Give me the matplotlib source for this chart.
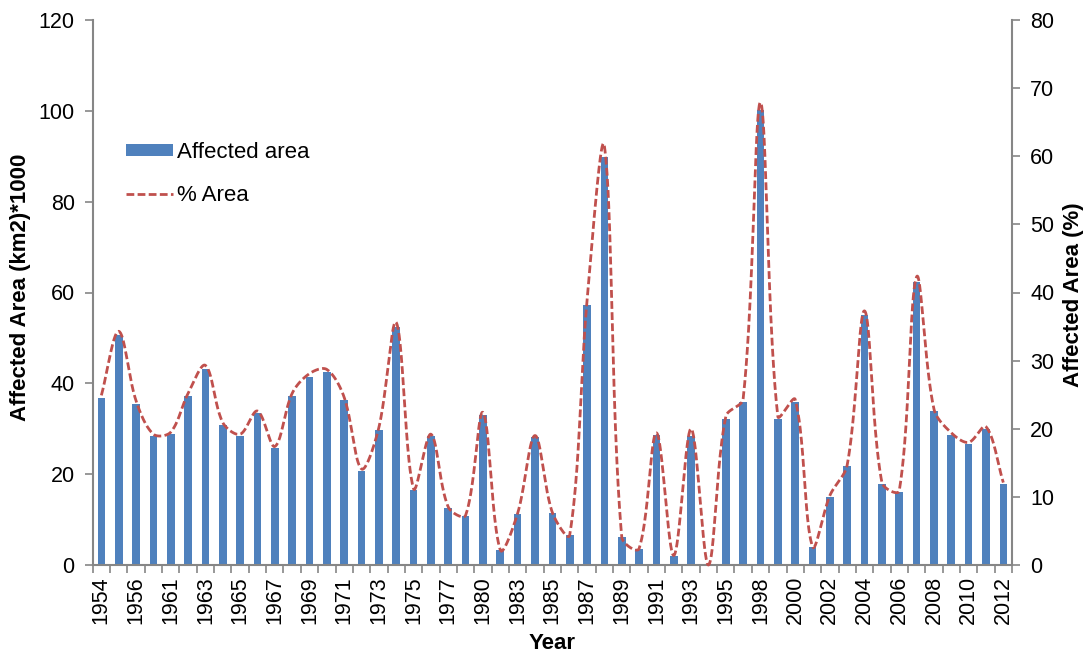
import numpy as np
import matplotlib
matplotlib.use('Agg')
import matplotlib.pyplot as plt
from matplotlib.patches import Patch
from matplotlib.lines import Line2D
from matplotlib.ticker import FixedLocator

years = [1954, 1955, 1956, 1960, 1961, 1962, 1963, 1964, 1965, 1966,
         1967, 1968, 1969, 1970, 1971, 1972, 1973, 1974, 1975, 1976,
         1977, 1979, 1980, 1982, 1983, 1984, 1985, 1986, 1987, 1988,
         1989, 1990, 1991, 1992, 1993, 1994, 1995, 1997, 1998, 1999,
         2000, 2001, 2002, 2003, 2004, 2005, 2006, 2007, 2008, 2009,
         2010, 2011, 2012]

affected_area = [36.7, 50.6, 35.5, 28.4, 28.8, 37.2, 43.2, 30.9, 28.4, 33.4,
                 25.7, 37.2, 41.4, 42.4, 36.3, 20.8, 29.8, 52.5, 16.5, 28.3,
                 12.5, 10.8, 33.0, 3.2, 11.2, 28.1, 11.4, 6.5, 57.3, 89.9,
                 6.1, 3.5, 28.6, 2.0, 28.5, 0.0, 32.1, 36.0, 100.2, 32.1,
                 35.8, 4.0, 15.0, 21.7, 55.0, 17.8, 16.1, 62.4, 33.8, 28.6,
                 26.6, 29.9, 17.8]

pct_area = [24.9, 34.3, 24.1, 19.2, 19.5, 25.2, 29.3, 20.9, 19.2, 22.6,
            17.4, 25.2, 28.1, 28.7, 24.6, 14.1, 20.2, 35.6, 11.2, 19.2,
            8.5, 7.3, 22.4, 2.2, 7.6, 19.0, 7.7, 4.4, 38.8, 61.5,
            4.1, 2.4, 19.4, 1.4, 20.0, 0.0, 21.8, 24.4, 67.9, 21.8,
            24.3, 2.7, 10.2, 14.7, 37.3, 12.1, 10.9, 42.3, 22.9, 19.4,
            18.0, 20.3, 12.1]

BAR_COLOR = '#4F81BD'
LINE_COLOR = '#C0504D'
AXIS_COLOR = '#868686'

plt.rcParams['font.family'] = ['Liberation Sans', 'DejaVu Sans']

W, H = 1086, 653
fig = plt.figure(figsize=(W / 100, H / 100), dpi=100)
x0, x1, yb, yt = 92.7, 1012, 565, 20
ax = fig.add_axes([x0 / W, 1 - yb / H, (x1 - x0) / W, (yb - yt) / H])

x = np.arange(len(years))
ax.bar(x, affected_area, width=0.44, color=BAR_COLOR, zorder=2)
ax.set_xlim(-0.5, len(years) - 0.5)
ax.set_ylim(0, 120)
ax.set_yticks(range(0, 121, 20))

TICK_FS = 15.5
ax.set_xticks(x[::2])
ax.set_xticklabels([str(y) for y in years[::2]], rotation=90)
ax.xaxis.set_minor_locator(FixedLocator(np.arange(-0.5, len(years), 1.0)))
ax.tick_params(axis='x', which='major', length=0, labelsize=TICK_FS, pad=8)
ax.tick_params(axis='x', which='minor', length=6, width=1.2, color=AXIS_COLOR, direction='out')
ax.tick_params(axis='y', length=6, width=1.2, color=AXIS_COLOR, direction='out',
               labelsize=TICK_FS, pad=7)

for s in ['top', 'right']:
    ax.spines[s].set_visible(False)
for s in ['left', 'bottom']:
    ax.spines[s].set_color(AXIS_COLOR)
    ax.spines[s].set_linewidth(1.5)

ax2 = ax.twinx()
ax2.set_ylim(0, 80)
ax2.set_yticks(range(0, 81, 10))
ax2.tick_params(axis='y', length=6, width=1.2, color=AXIS_COLOR, direction='out',
                labelsize=TICK_FS, pad=7)
for s in ['top', 'left', 'bottom']:
    ax2.spines[s].set_visible(False)
ax2.spines['right'].set_color(AXIS_COLOR)
ax2.spines['right'].set_linewidth(1.5)

fig.text(21 / W, 1 - 287 / H, 'Affected Area (km2)*1000', rotation=90,
         ha='center', va='center', fontsize=16, fontweight='bold')
fig.text(1073 / W, 1 - 295 / H, 'Affected Area (%)', rotation=90,
         ha='center', va='center', fontsize=16, fontweight='bold')
fig.text(552 / W, 1 - 633 / H, 'Year', ha='center', va='top', fontsize=16, fontweight='bold')

# Excel-like smoothing computed in pixel space
sx = (x1 - x0) / len(years)
sy = (yb - yt) / 80.0


def smooth(xs, ys, n=40):
    P = np.column_stack([np.asarray(xs) * sx, np.asarray(ys) * sy]).astype(float)
    N = len(P)
    cin = np.zeros_like(P)
    cout = np.zeros_like(P)
    for i in range(N):
        prev = P[i - 1] if i > 0 else P[i]
        nxt = P[i + 1] if i < N - 1 else P[i]
        T = nxt - prev
        dp = np.linalg.norm(P[i] - prev)
        dn = np.linalg.norm(nxt - P[i])
        tot = dp + dn
        if tot == 0:
            cin[i] = cout[i] = P[i]
            continue
        cout[i] = P[i] + T * (dn / tot) / 3.0
        cin[i] = P[i] - T * (dp / tot) / 3.0
    out = []
    t = np.linspace(0, 1, n)[:, None]
    for i in range(N - 1):
        p1, c1, c2, p2 = P[i], cout[i], cin[i + 1], P[i + 1]
        seg = (1 - t) ** 3 * p1 + 3 * (1 - t) ** 2 * t * c1 + 3 * (1 - t) * t ** 2 * c2 + t ** 3 * p2
        out.append(seg if i == 0 else seg[1:])
    C = np.vstack(out)
    return C[:, 0] / sx, C[:, 1] / sy


cx, cy = smooth(x, pct_area)
ax2.plot(cx, cy, color=LINE_COLOR, linewidth=2.0,
         linestyle=(0, (2.8, 1.2)), clip_on=False)

handles = [Patch(facecolor=BAR_COLOR, edgecolor='none'),
           Line2D([0], [0], color=LINE_COLOR, linewidth=2.0, linestyle=(0, (2.8, 1.2)))]
ax2.legend(handles, ['Affected area', '% Area'], loc='upper left',
           bbox_to_anchor=(126 / W, 1 - 142 / H), bbox_transform=fig.transFigure,
           frameon=False, fontsize=16, borderpad=0, borderaxespad=0,
           handlelength=2.1, handleheight=0.5, handletextpad=0.2, labelspacing=1.0)

fig.savefig('out.png', dpi=100)
